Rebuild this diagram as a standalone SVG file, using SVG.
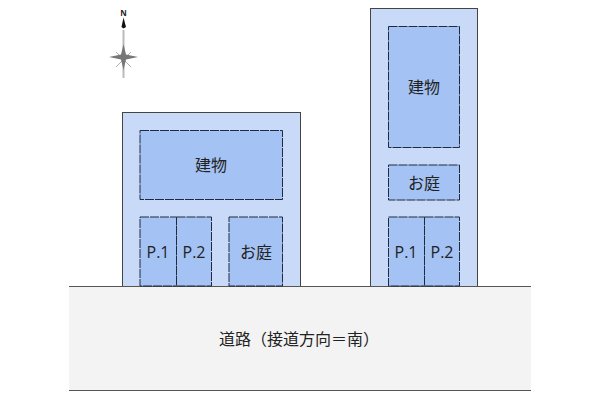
<svg xmlns="http://www.w3.org/2000/svg" width="600" height="400" viewBox="0 0 600 400">
<style>
.lot{fill:#c9daf8;stroke:#444;stroke-width:1}
.area{fill:#a4c2f4;stroke:#1f2a3c;stroke-width:1;stroke-dasharray:9 1}
.road{fill:#f3f3f3;stroke:none}
.edge{stroke:#555;stroke-width:1;fill:none}
text{font-family:"Open Sans","Noto Sans CJK JP",sans-serif;font-size:16px;fill:#222;text-anchor:middle;dominant-baseline:central}
</style>
<rect width="600" height="400" fill="#fff"/>
<g id="lot-left"><rect class="lot" x="122.500" y="112.500" width="178" height="174"/></g>
<g id="lot-right"><rect class="lot" x="370.500" y="8.500" width="107" height="278"/></g>
<g id="road"><rect class="road" x="69" y="286" width="462" height="104"/><path class="edge" d="M69 286.500H531M69 390.500H531"/>
<text x="299" y="339">道路（接道方向＝南）</text></g>
<g id="left-building"><rect class="area" x="140" y="130.500" width="142.500" height="69"/><text x="211" y="165">建物</text></g>
<g id="left-p1"><rect class="area" x="140" y="217" width="36.500" height="69"/><text x="158" y="252">P.1</text></g>
<g id="left-p2"><rect class="area" x="176.500" y="217" width="35" height="69"/><text x="194" y="252">P.2</text></g>
<g id="left-garden"><rect class="area" x="229" y="217" width="53.500" height="69"/><text x="256" y="252">お庭</text></g>
<g id="right-building"><rect class="area" x="388.500" y="26.500" width="71" height="121"/><text x="424" y="87">建物</text></g>
<g id="right-garden"><rect class="area" x="388.500" y="165" width="71" height="35"/><text x="424" y="183">お庭</text></g>
<g id="right-p1"><rect class="area" x="388.500" y="217" width="36" height="69"/><text x="406" y="252">P.1</text></g>
<g id="right-p2"><rect class="area" x="424.500" y="217" width="35" height="69"/><text x="442" y="252">P.2</text></g>
<g id="north">
<path d="M123.500 30V78" stroke="#bbb" stroke-width="2" fill="none"/>
<path d="M123.500 17.500 126 27 123.500 28.500 121.500 27Z" fill="#111"/>
<path d="M116 52 131 67M131 52 116 67" stroke="#999" stroke-width=".8"/>
<path d="M123.500 44 126 54.500 138 57 126 59.500 123.500 70 121 59.500 109 57 121 54.500Z" fill="#777"/>
<text x="123.500" y="12" style="font-size:8px;font-weight:700">N</text>
</g>
</svg>
